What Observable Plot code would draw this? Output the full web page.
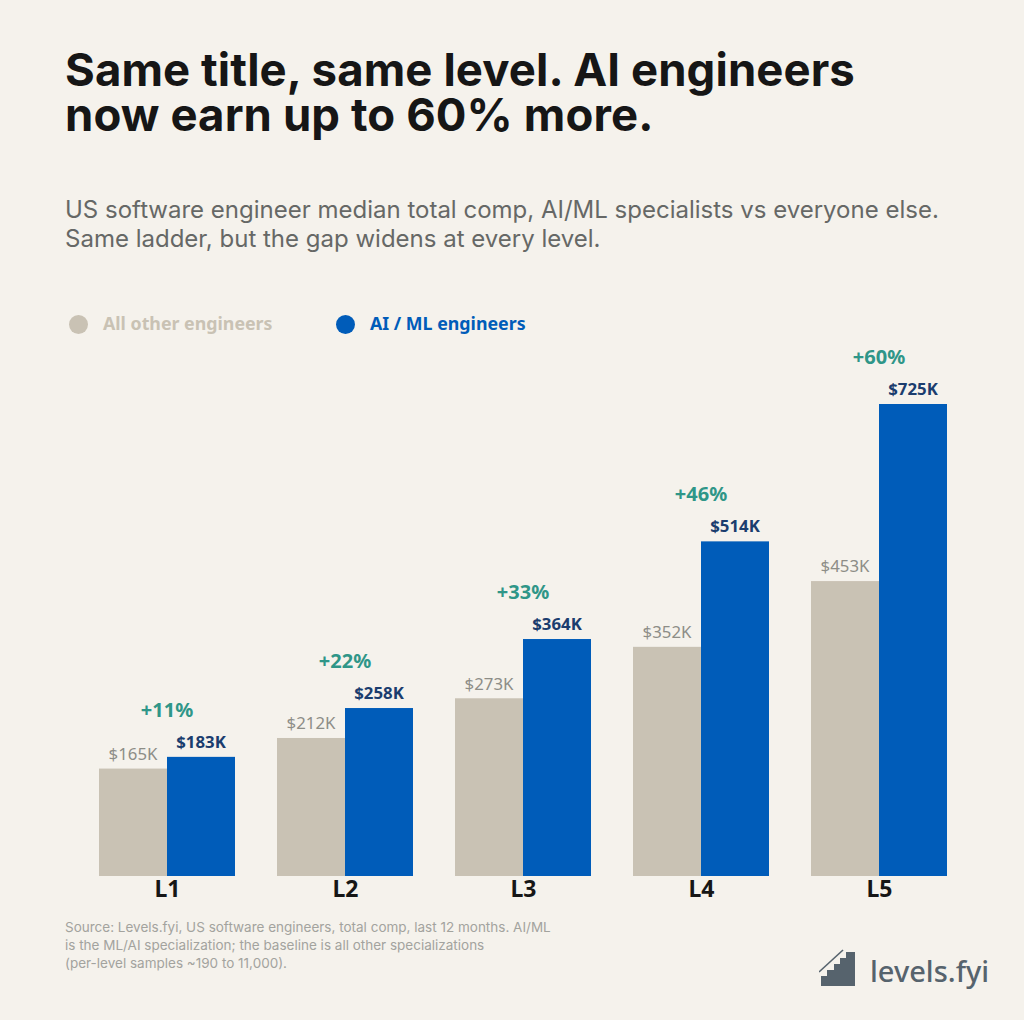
<!DOCTYPE html>
<html><head><meta charset="utf-8">
<script src="https://cdn.jsdelivr.net/npm/d3@7"></script>
<script src="https://cdn.jsdelivr.net/npm/@observablehq/plot@0.6"></script>
<style>
html,body{margin:0;padding:0;background:#f5f2ec;}
body{width:1024px;height:1020px;position:relative;overflow:hidden;font-family:"Noto Sans",sans-serif;}
.t{position:absolute;left:65px;white-space:nowrap;}
#title{top:47px;font:700 45.5px/45px Inter,sans-serif;letter-spacing:0.1px;color:#161616;}
#sub{top:196px;font:400 24px/28.5px Inter,sans-serif;color:#666866;}
.lg{position:absolute;top:311px;font:700 17.8px/24px "Noto Sans",sans-serif;white-space:nowrap;}
.dot{position:absolute;top:315px;width:19px;height:19px;border-radius:50%;}
#source{top:918px;font:400 13.5px/18px Inter,sans-serif;color:#a3a39e;}
#logo{position:absolute;left:819px;top:949px;}
#logotext{position:absolute;left:870px;top:949px;font:500 29px/44px "Noto Sans",sans-serif;color:#56636d;}
#chart{position:absolute;left:0;top:340px;}
#chart svg{background:transparent;display:block;}
</style></head><body>
<div class="t" id="title"></div>
<div class="t" id="sub"></div>
<div class="dot" style="left:69px;background:#c9c2b4"></div>
<div class="lg" id="lg0" style="left:103px;color:#c9c2b4"></div>
<div class="dot" style="left:336px;background:#005cb9"></div>
<div class="lg" id="lg1" style="left:370px;color:#005cb9"></div>
<div id="chart"></div>
<div class="t" id="source"></div>
<svg id="logo" width="40" height="40" viewBox="0 0 40 40">
<path d="M2 37V27H8V21H15V15H21V9H27V3H36V37Z" fill="#56636d"/>
<path d="M0 23L24 1" stroke="#56636d" stroke-width="1.6" fill="none"/>
</svg>
<div id="logotext">levels.fyi</div>
<script>
const titleLines = ["Same title, same level. AI engineers","now earn up to 60% more."];
const subLines = ["US software engineer median total comp, AI/ML specialists vs everyone else.","Same ladder, but the gap widens at every level."];
const sourceLines = ["Source: Levels.fyi, US software engineers, total comp, last 12 months. AI/ML","is the ML/AI specialization; the baseline is all other specializations","(per-level samples ~190 to 11,000)."];
const levels = ["L1","L2","L3","L4","L5"];
const groups = ["All other engineers","AI / ML engineers"];
const otherValues = [165,212,273,352,453];
const aiValues = [183,258,364,514,725];
const deltas = ["+11%","+22%","+33%","+46%","+60%"];

document.getElementById("title").innerHTML = titleLines.join("<br>");
document.getElementById("sub").innerHTML = subLines.join("<br>");
document.getElementById("source").innerHTML = sourceLines.join("<br>");
document.getElementById("lg0").textContent = groups[0];
document.getElementById("lg1").textContent = groups[1];

const rows = levels.flatMap((l,i)=>[
  {level:l,group:groups[0],value:otherValues[i]},
  {level:l,group:groups[1],value:aiValues[i]}
]);
const deltaRows = levels.map((l,i)=>({level:l,value:aiValues[i],delta:deltas[i]}));
const fmt = d=>`$${d.value}K`;
const font = "'Noto Sans',sans-serif";

const plot = Plot.plot({
  width:1024, height:570,
  marginLeft:99, marginRight:77, marginTop:0, marginBottom:34,
  style:{background:"transparent",fontFamily:font},
  fx:{domain:levels,padding:42/178,label:null,axis:null},
  x:{domain:groups,padding:0,axis:null},
  y:{domain:[0,725],range:[536,64],axis:null},
  marks:[
    Plot.barY(rows,{fx:"level",x:"group",y:"value",fill:d=>d.group===groups[0]?"#c9c2b4":"#005cb9"}),
    Plot.text(rows.filter(d=>d.group===groups[0]),{fx:"level",x:"group",y:"value",text:fmt,dy:-14.5,dx:-0.5,fill:"#8d8d87",fontSize:16.8}),
    Plot.text(rows.filter(d=>d.group===groups[1]),{fx:"level",x:"group",y:"value",text:fmt,dy:-15,dx:-0.5,fill:"#1b3d6e",fontSize:16.8,fontWeight:700}),
    Plot.text(deltaRows,{fx:"level",y:"value",text:"delta",dy:-47,dx:-0.5,fill:"#2f9688",fontSize:20,fontWeight:700}),
    Plot.axisFx({anchor:"bottom",tickSize:0,tickPadding:4,fontSize:23,fontWeight:700,fill:"#161616",label:null})
  ]
});
document.getElementById("chart").appendChild(plot);
</script>
</body></html>
